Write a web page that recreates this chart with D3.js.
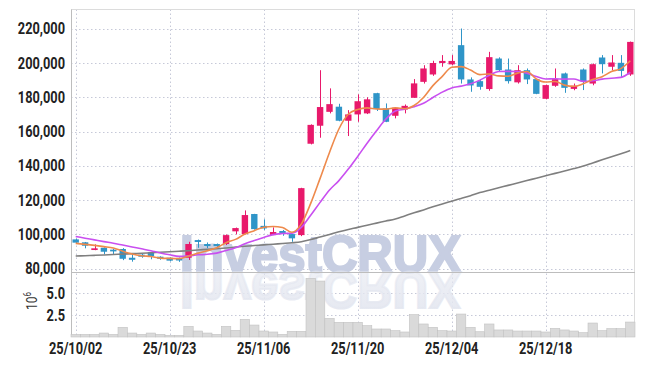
<!DOCTYPE html>
<html>
<head>
<meta charset="utf-8">
<script src="https://cdn.jsdelivr.net/npm/d3@7"></script>
<style>
  body { margin: 0; background: #fff; }
  .axis text { font-family: Roboto, "Liberation Sans", sans-serif; font-weight: bold; font-size: 16px; fill: #222; }
</style>
</head>
<body>
<div class="chart"></div>
<script>
const dates = ["25/10/02","25/10/10","25/10/13","25/10/14","25/10/15","25/10/16","25/10/17","25/10/20","25/10/21","25/10/22",
  "25/10/23","25/10/24","25/10/27","25/10/28","25/10/29","25/10/30","25/10/31","25/11/03","25/11/04","25/11/05",
  "25/11/06","25/11/07","25/11/10","25/11/11","25/11/12","25/11/13","25/11/14","25/11/17","25/11/18","25/11/19",
  "25/11/20","25/11/21","25/11/24","25/11/25","25/11/26","25/11/27","25/11/28","25/12/01","25/12/02","25/12/03",
  "25/12/04","25/12/05","25/12/08","25/12/09","25/12/10","25/12/11","25/12/12","25/12/15","25/12/16","25/12/17",
  "25/12/18","25/12/19","25/12/22","25/12/23","25/12/24","25/12/26","25/12/29","25/12/30","26/01/02","26/01/05"];

// prices in thousands
const open = [97.1,95.4,90.9,92.2,91.1,91.5,86.4,88.2,89.6,87.0,
  86.4,86.3,86.4,96.7,94.4,94.4,94.4,101.8,100.2,111.9,
  105.0,99.6,102.0,100.2,99.6,152.9,163.4,171.5,174.5,166.3,
  170.0,170.6,182.4,173.5,169.2,172.9,179.7,189.0,193.3,200.0,
  199.2,210.4,190.4,189.4,184.8,202.6,196.2,188.7,195.8,190.6,
  179.1,186.7,193.9,184.9,196.2,188.0,203.2,197.8,200.1,193.3];
const high = [97.5,95.6,94.2,92.4,91.5,92.0,88.5,88.6,89.8,87.2,
  86.6,86.5,95.7,97.0,95.3,94.7,100.0,104.0,114.0,112.0,
  108.8,104.1,102.6,100.4,127.2,164.2,195.8,185.2,176.2,172.5,
  181.7,180.0,182.6,176.4,174.2,175.8,190.6,198.7,201.3,204.6,
  204.6,220.1,191.6,190.4,206.5,203.3,202.6,198.7,196.8,190.8,
  187.4,196.8,194.4,188.0,196.8,199.7,204.6,204.6,204.6,212.5];
const low = [95.0,91.9,90.8,88.4,88.6,85.0,84.1,86.4,85.5,85.2,
  84.3,84.0,85.1,92.2,92.0,92.4,93.8,100.0,100.0,102.8,
  102.6,99.6,99.2,95.7,99.0,152.5,156.4,170.6,166.0,157.4,
  165.7,170.2,172.0,165.5,167.7,170.6,179.7,188.0,192.5,197.8,
  198.7,188.0,183.2,184.4,183.8,194.8,188.0,188.0,187.7,181.8,
  178.8,186.1,182.6,184.1,184.2,187.0,193.9,195.8,191.9,192.5];
const close = [95.2,93.4,91.9,89.9,90.1,85.8,85.2,87.0,87.2,85.8,
  84.7,84.8,94.4,95.6,93.2,93.2,99.6,103.7,111.3,103.1,
  103.5,101.4,100.6,97.7,127.0,163.9,174.3,176.0,166.3,170.0,
  177.7,178.8,173.1,165.7,173.9,175.0,188.1,196.8,200.0,201.2,
  201.2,190.4,186.9,186.1,203.4,195.8,189.4,195.8,190.4,182.0,
  187.1,190.6,185.5,186.7,189.4,199.3,199.3,200.3,195.4,212.3];

// volume in millions
const volume = [0.30,0.30,0.30,0.45,0.30,1.10,0.45,0.30,0.45,0.30,
  0.19,0.19,1.21,0.68,0.45,0.30,1.21,0.76,2.01,1.36,
  0.68,0.57,0.30,0.64,0.64,6.67,6.36,2.12,1.67,1.67,
  1.67,1.29,0.91,0.91,0.72,0.57,2.54,1.48,1.10,0.72,
  0.68,2.61,1.10,0.60,1.48,0.80,0.80,0.68,0.68,0.68,
  0.57,0.98,0.80,0.68,0.49,1.59,0.72,0.95,0.95,1.70];

const ma5 = [94.8,94.2,93.6,92.9,92.1,90.2,88.6,87.6,87.1,86.2,
  86.0,85.9,87.4,89.1,90.5,92.2,95.2,97.1,100.2,102.2,
  104.2,104.6,104.0,101.3,106.0,118.1,132.7,147.8,161.5,170.1,
  172.9,173.8,173.2,173.1,173.8,173.3,175.2,179.9,186.8,192.2,
  197.5,197.9,195.9,193.2,193.6,192.5,192.3,194.1,195.0,190.7,
  188.9,189.2,187.1,186.4,187.9,190.3,192.0,195.0,196.7,201.3];
const ma10 = [98.8,97.8,96.8,95.8,94.9,93.8,92.7,91.6,90.5,89.2,
  88.1,87.2,87.5,88.1,88.4,89.1,90.6,92.2,94.6,96.4,
  98.2,99.9,100.5,100.7,104.1,111.2,118.7,125.9,131.4,138.1,
  145.5,153.2,160.5,167.3,172.0,173.1,174.5,176.5,179.9,183.0,
  185.4,186.5,187.9,190.0,192.9,195.0,195.1,195.0,194.1,192.1,
  190.7,190.8,190.6,190.7,189.3,189.6,190.6,191.1,191.6,194.6];
const ma60 = [87.4,87.6,87.8,88.0,88.3,88.5,88.8,89.0,89.3,89.6,
  89.9,90.2,90.5,90.9,91.3,91.7,92.1,92.6,93.1,93.5,
  93.9,94.3,94.7,95.1,95.7,97.0,98.5,100.0,101.5,102.9,
  104.1,105.4,106.6,107.8,109.0,110.8,112.6,114.3,116.1,117.8,
  119.4,121.0,122.6,124.4,125.8,127.2,128.6,130.0,131.4,132.8,
  134.2,135.6,137.0,138.4,139.9,141.7,143.5,145.3,147.1,148.9];

const priceTicks = [80000, 100000, 120000, 140000, 160000, 180000, 200000, 220000];
const volumeTicks = [2.5, 5.0];
const dateTicks = ["25/10/02", "25/10/23", "25/11/06", "25/11/20", "25/12/04", "25/12/18"];

const width = 645, height = 366;
const plotLeft = 71, plotRight = 635, plotTop = 9.5, split = 272, plotBottom = 337;
const upColor = "#e8196b", downColor = "#2f95c8";
const squeeze = 0.8; // labels are drawn narrower than the installed fonts

const svg = d3.select(".chart").append("svg")
  .attr("width", width)
  .attr("height", height);

const x = d3.scaleBand().domain(dates).range([plotLeft, plotRight]);
const cx = d => x(d) + x.bandwidth() / 2;
const y = d3.scaleLinear().domain([78.08, 231.2]).range([split, plotTop]);
const yv = d3.scaleLinear().domain([0, 7.39]).range([plotBottom, split]);

// grid
const grid = svg.append("g").attr("stroke", "#c6c9d8").attr("stroke-dasharray", "1.5,2.5");
grid.selectAll("line.h").data(priceTicks).enter().append("line")
  .attr("x1", plotLeft).attr("x2", plotRight)
  .attr("y1", d => Math.round(y(d / 1000)) + 0.5).attr("y2", d => Math.round(y(d / 1000)) + 0.5);
grid.selectAll("line.v").data(volumeTicks).enter().append("line")
  .attr("x1", plotLeft).attr("x2", plotRight)
  .attr("y1", d => Math.round(yv(d)) + 0.5).attr("y2", d => Math.round(yv(d)) + 0.5);
grid.selectAll("line.d").data(dateTicks).enter().append("line")
  .attr("x1", d => Math.round(cx(d)) + 0.5).attr("x2", d => Math.round(cx(d)) + 0.5)
  .attr("y1", plotTop).attr("y2", plotBottom);

// watermark with reflection
const grad = svg.append("defs").append("linearGradient")
  .attr("id", "fade").attr("x1", 0).attr("y1", 0).attr("x2", 0).attr("y2", 1);
grad.append("stop").attr("offset", "0%").attr("stop-color", "#e4e7f0").attr("stop-opacity", 1);
grad.append("stop").attr("offset", "100%").attr("stop-color", "#e4e7f0").attr("stop-opacity", 0.5);

const mark = svg.append("g").attr("font-family", "Liberation Sans, Arial, sans-serif")
  .attr("font-weight", "bold").attr("font-size", 52);
mark.append("text").attr("x", 180).attr("y", split)
  .attr("textLength", 281).attr("lengthAdjust", "spacingAndGlyphs")
  .attr("fill", "#c7cee2").attr("stroke", "#c7cee2").attr("stroke-width", 2.2)
  .text("InvestCRUX");
mark.append("text").attr("x", 180).attr("y", -split)
  .attr("transform", "scale(1,-1)")
  .attr("textLength", 281).attr("lengthAdjust", "spacingAndGlyphs")
  .attr("fill", "url(#fade)").attr("stroke", "url(#fade)").attr("stroke-width", 2.2)
  .text("InvestCRUX");

// frame
svg.append("line").attr("x1", plotLeft).attr("x2", plotRight).attr("y1", plotTop).attr("y2", plotTop).attr("stroke", "#dcdcdc");
svg.append("line").attr("x1", plotRight - 0.5).attr("x2", plotRight - 0.5).attr("y1", plotTop).attr("y2", plotBottom).attr("stroke", "#dcdcdc");
svg.append("line").attr("x1", plotLeft).attr("x2", plotRight).attr("y1", split + 0.5).attr("y2", split + 0.5).attr("stroke", "#bdbdbd");
svg.append("line").attr("x1", plotLeft + 0.5).attr("x2", plotLeft + 0.5).attr("y1", plotTop).attr("y2", plotBottom).attr("stroke", "#bdbdbd");

// volume bars
svg.append("g").selectAll("rect").data(dates).enter().append("rect")
  .attr("x", d => x(d))
  .attr("y", (d, i) => yv(volume[i]))
  .attr("width", x.bandwidth())
  .attr("height", (d, i) => plotBottom - yv(volume[i]))
  .attr("fill", "#dadada")
  .attr("stroke", "#c2c2c2")
  .attr("stroke-width", 0.6);

// candles
const bodyW = x.bandwidth() * 0.68;
const candles = svg.append("g").selectAll("g").data(dates).enter().append("g")
  .attr("fill", (d, i) => close[i] >= open[i] ? upColor : downColor)
  .attr("stroke", (d, i) => close[i] >= open[i] ? upColor : downColor);
candles.append("line")
  .attr("x1", d => Math.round(cx(d)) + 0.5).attr("x2", d => Math.round(cx(d)) + 0.5)
  .attr("y1", (d, i) => y(high[i])).attr("y2", (d, i) => y(low[i]))
  .attr("stroke-width", 1);
candles.append("rect")
  .attr("x", d => cx(d) - bodyW / 2)
  .attr("y", (d, i) => y(Math.max(open[i], close[i])))
  .attr("width", bodyW)
  .attr("height", (d, i) => Math.max(1.5, Math.abs(y(open[i]) - y(close[i]))))
  .attr("stroke", "none");

// moving averages
const line = arr => d3.line().x(d => cx(d)).y((d, i) => y(arr[i])).curve(d3.curveMonotoneX)(dates);
svg.append("path").attr("d", line(ma60)).attr("fill", "none").attr("stroke", "#7f7f7f").attr("stroke-width", 1.6);
svg.append("path").attr("d", line(ma10)).attr("fill", "none").attr("stroke", "#c94ff0").attr("stroke-width", 1.6);
svg.append("path").attr("d", line(ma5)).attr("fill", "none").attr("stroke", "#ee8a4c").attr("stroke-width", 1.6);

// axes
svg.append("g").attr("class", "axis")
  .attr("transform", `translate(${plotLeft}, 0)`)
  .call(d3.axisLeft(y).tickValues(priceTicks.map(d => d / 1000)).tickSize(0).tickPadding(6)
    .tickFormat(d => d3.format(",")(Math.round(d * 1000))));
svg.append("g").attr("class", "axis")
  .attr("transform", `translate(${plotLeft}, 0)`)
  .call(d3.axisLeft(yv).tickValues(volumeTicks).tickSize(0).tickPadding(6)
    .tickFormat(d => d.toFixed(1)));
svg.append("g").attr("class", "axis")
  .attr("transform", `translate(0, ${plotBottom})`)
  .call(d3.axisBottom(x).tickValues(dateTicks).tickSize(0).tickPadding(6));
svg.selectAll(".axis .domain").remove();
svg.selectAll(".axis text")
  .attr("x", function () { return +d3.select(this).attr("x") / squeeze || 0; })
  .attr("transform", `scale(${squeeze},1)`);

const unit = svg.append("text")
  .attr("transform", `translate(37, 301) rotate(-90) scale(${squeeze},1)`)
  .attr("text-anchor", "middle")
  .style("font-family", "Roboto, sans-serif").style("font-size", "15px").style("fill", "#333");
unit.append("tspan").text("10");
unit.append("tspan").attr("dy", -6).style("font-size", "10px").text("6");
</script>
</body>
</html>
